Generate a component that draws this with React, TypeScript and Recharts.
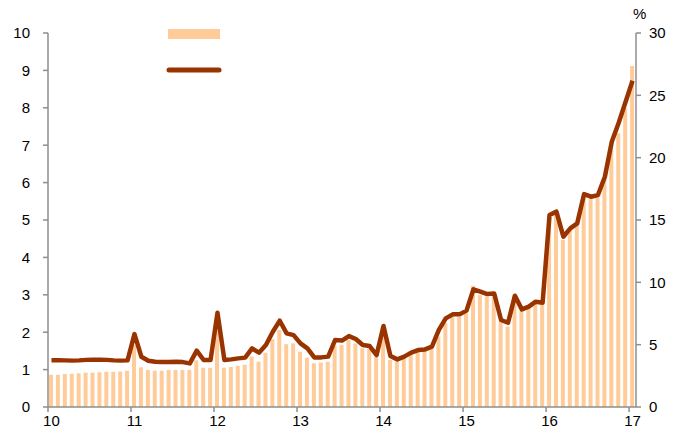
import { ComposedChart, Bar, Line, XAxis, YAxis, Legend } from 'recharts';

// monthly points, Jan 2010 .. Jan 2017
const yearLabels = ['10', '11', '12', '13', '14', '15', '16', '17'];

// left axis (bars)
const barValues = [
  0.86, 0.86, 0.88, 0.89, 0.9, 0.92, 0.92, 0.93, 0.94, 0.94, 0.95, 0.97,
  1.65, 1.06, 0.99, 0.97, 0.97, 0.99, 0.99, 0.99, 0.99, 1.25, 1.05, 1.05,
  2.35, 1.05, 1.07, 1.1, 1.13, 1.35, 1.21, 1.45, 1.81, 2.06, 1.68, 1.7,
  1.48, 1.32, 1.17, 1.19, 1.21, 1.63, 1.66, 1.79, 1.7, 1.57, 1.55, 1.33,
  2.0, 1.26, 1.21, 1.3, 1.42, 1.5, 1.53, 1.55, 1.88, 2.24, 2.41, 2.41,
  2.5, 3.24, 2.99, 2.95, 2.95, 2.28, 2.15, 3.0, 2.57, 2.64, 2.77, 2.73,
  5.09, 5.18, 4.47, 4.73, 4.87, 5.62, 5.58, 5.6, 6.11, 6.87, 7.32, 7.99, 9.12,
];

// right axis, % (line)
const lineValues = [
  3.75, 3.75, 3.74, 3.72, 3.74, 3.78, 3.8, 3.8, 3.78, 3.74, 3.72, 3.74,
  5.85, 4.03, 3.71, 3.63, 3.6, 3.6, 3.63, 3.6, 3.5, 4.52, 3.77, 3.77,
  7.56, 3.77, 3.82, 3.9, 3.96, 4.7, 4.36, 4.97, 6.04, 6.92, 5.91, 5.77,
  5.1, 4.7, 3.98, 3.98, 4.04, 5.37, 5.33, 5.69, 5.45, 4.97, 4.89, 4.17,
  6.5, 4.09, 3.82, 4.04, 4.36, 4.57, 4.62, 4.84, 6.18, 7.11, 7.43, 7.43,
  7.73, 9.44, 9.25, 9.06, 9.1, 6.98, 6.76, 8.93, 7.83, 8.05, 8.45, 8.37,
  15.4, 15.67, 13.66, 14.33, 14.73, 17.08, 16.87, 17.0, 18.47, 21.28, 22.8, 24.49, 26.17,
];

const leftTicks = [0, 1, 2, 3, 4, 5, 6, 7, 8, 9, 10];
const rightTicks = [0, 5, 10, 15, 20, 25, 30];

const data = barValues.map((v, i) => ({ m: i, bar: v, line: lineValues[i] }));
const yearTicks = yearLabels.map((_, k) => k * 12);

const W = 683;
const H = 436;
const LEFT_W = 48;
const RIGHT_W = 47;
const HALF_BAND = (W - LEFT_W - RIGHT_W) / data.length / 2;

const FONT = 'Arial, "Liberation Sans", sans-serif';
const AXIS = '#8e8e8e';
const BAR = '#ffcc99';
const LINE = '#993300';

// label sits on the January bar, tick mark on the band edge
const XTick = (props: any) => {
  const { x, y, payload } = props;
  const tx = x - HALF_BAND;
  return (
    <g>
      <line x1={tx} x2={tx} y1={y - 8} y2={y - 3} stroke={AXIS} strokeWidth={1.5} />
      <text x={x} y={y} dy="0.71em" textAnchor="middle" fill="#000" fontSize={15} fontFamily={FONT}>
        {yearLabels[payload.value / 12]}
      </text>
    </g>
  );
};

const LegendSwatches = () => (
  <div style={{ width: 60 }}>
    <svg width={60} height={52}>
      <rect x={4} y={0} width={52} height={10} fill={BAR} />
      <line x1={5} x2={55} y1={41} y2={41} stroke={LINE} strokeWidth={5} strokeLinecap="round" />
    </svg>
  </div>
);

export default function App() {
  return (
    <div style={{ position: 'absolute', left: 0, top: 0, width: W, height: H, background: '#fff' }}>
      <ComposedChart width={W} height={H} data={data} margin={{ top: 33, right: 0, bottom: 0, left: 0 }}>
        <XAxis
          dataKey="m"
          type="number"
          domain={[-0.5, data.length - 0.5]}
          ticks={yearTicks}
          interval={0}
          height={29}
          tickSize={5}
          tickMargin={3}
          tickLine={false}
          tick={<XTick />}
          axisLine={{ stroke: AXIS, strokeWidth: 1.5 }}
        />
        <YAxis
          yAxisId="left"
          domain={[0, 10]}
          ticks={leftTicks}
          width={LEFT_W}
          tickSize={5}
          tickMargin={13}
          axisLine={{ stroke: AXIS, strokeWidth: 1.5 }}
          tickLine={{ stroke: AXIS, strokeWidth: 1.5 }}
          tick={{ fill: '#000', fontSize: 15, fontFamily: FONT }}
        />
        <YAxis
          yAxisId="right"
          orientation="right"
          domain={[0, 30]}
          ticks={rightTicks}
          width={RIGHT_W}
          tickSize={5}
          tickMargin={8}
          axisLine={{ stroke: AXIS, strokeWidth: 1.5 }}
          tickLine={{ stroke: AXIS, strokeWidth: 1.5 }}
          tick={{ fill: '#000', fontSize: 15, fontFamily: FONT, textAnchor: 'start' }}
        />
        <Legend
          layout="vertical"
          align="center"
          verticalAlign="middle"
          content={<LegendSwatches />}
          wrapperStyle={{ left: 164, top: 29, width: 60 }}
        />
        <Bar yAxisId="left" dataKey="bar" fill={BAR} barSize={4} isAnimationActive={false} />
        <Line
          yAxisId="right"
          dataKey="line"
          type="linear"
          stroke={LINE}
          strokeWidth={4.5}
          strokeLinejoin="round"
          dot={false}
          activeDot={false}
          isAnimationActive={false}
        />
      </ComposedChart>
      <div style={{ position: 'absolute', left: 633, top: 5, fontFamily: FONT, fontSize: 15, color: '#000' }}>%</div>
    </div>
  );
}
